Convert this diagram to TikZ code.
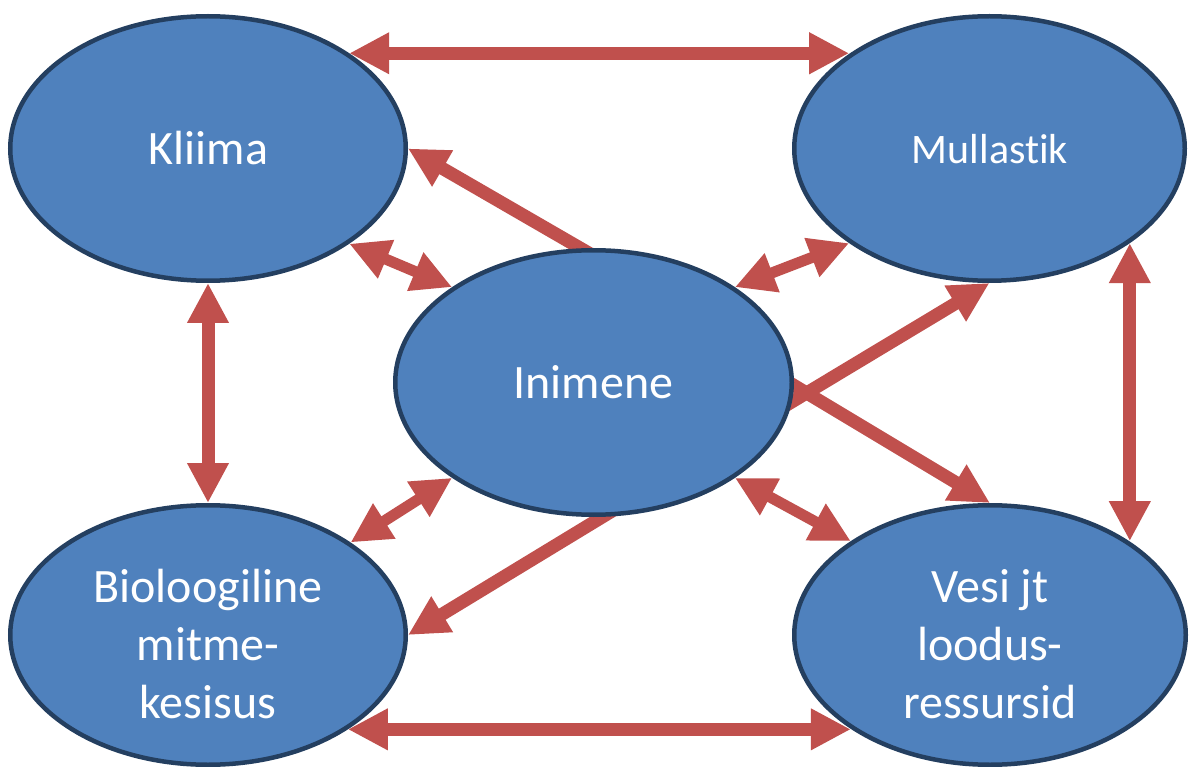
\documentclass[tikz,border=0pt]{standalone}
\usepackage{fontspec}
\setmainfont{Carlito}[Ligatures=NoCommon]
\usetikzlibrary{arrows.meta,shapes.geometric}
\definecolor{nodefill}{HTML}{4F81BD}
\definecolor{nodeline}{HTML}{243F60}
\definecolor{arrowred}{HTML}{C0504D}
\pgfdeclarelayer{front}
\pgfsetlayers{main,front}
\tikzset{
 blob/.style={ellipse, fill=nodefill, draw=nodeline, line width=4.5pt, outer sep=2.25pt, inner sep=0pt},
 lbl/.style={text=white, font=\fontsize{48}{58}\selectfont, anchor=base, inner sep=0pt},
 tipk/.tip={Triangle[width=39pt,length=40pt]},
 one/.style={draw=arrowred, line width=13pt, -tipk},
 two/.style={draw=arrowred, line width=13pt, tipk-tipk},
 twos/.style={draw=arrowred, line width=11pt, tipk-tipk},
}
\begin{document}
\begin{tikzpicture}[x=1pt,y=-1pt]
\useasboundingbox (0,0) rectangle (1189,767);
\node[blob, minimum width=395.5pt, minimum height=264.5pt] (kl) at (208,148.5) {};
\node[blob, minimum width=390.5pt, minimum height=264.5pt] (mu) at (989.5,148.5) {};
\node[blob, minimum width=395.5pt, minimum height=259.5pt] (bio) at (208,635) {};
\node[blob, minimum width=391.5pt, minimum height=259.5pt] (ve) at (990,635) {};
\begin{pgfonlayer}{front}
\node[blob, minimum width=396.5pt, minimum height=264.5pt] (in) at (593.5,382.5) {};
\node[lbl] (int) at (593.5,399) {Inimene};
\end{pgfonlayer}
\node[lbl] (klt) at (208.5,165) {Kliima};
\node[lbl, font=\fontsize{42}{50}\selectfont] (mut) at (990,164) {Mullastik};
\node[lbl] (biot) at (208,602) {\begin{tabular}[t]{@{}c@{}}Bioloogiline\\mitme-\\kesisus\end{tabular}};
\node[lbl] (vet) at (990,602) {\begin{tabular}[t]{@{}c@{}}Vesi jt\\loodus-\\ressursid\end{tabular}};
\coordinate (t1) at (606,263);
\coordinate (t2) at (775,412);
\coordinate (t3) at (775,374);
\coordinate (t4) at (622,505);
\draw[two] (kl.34) -- (kl.34 -| mu.146);
\draw[two] (bio.-34) -- (bio.-34 -| ve.-146);
\draw[two] (kl.south) -- (bio.north);
\draw[two] (mu.-34) -- (mu.-34 |- ve.34);
\draw[twos] (kl.-34) -- (in.146);
\draw[twos] (mu.-146) -- (in.34);
\draw[twos] (bio.33) -- (in.-146);
\draw[twos] (ve.146) -- (in.-34);
\draw[one] (t1) -- (kl.east);
\draw[one] (t2) -- (mu.south);
\draw[one] (t3) -- (ve.north);
\draw[one] (t4) -- (bio.east);
\end{tikzpicture}
\end{document}
